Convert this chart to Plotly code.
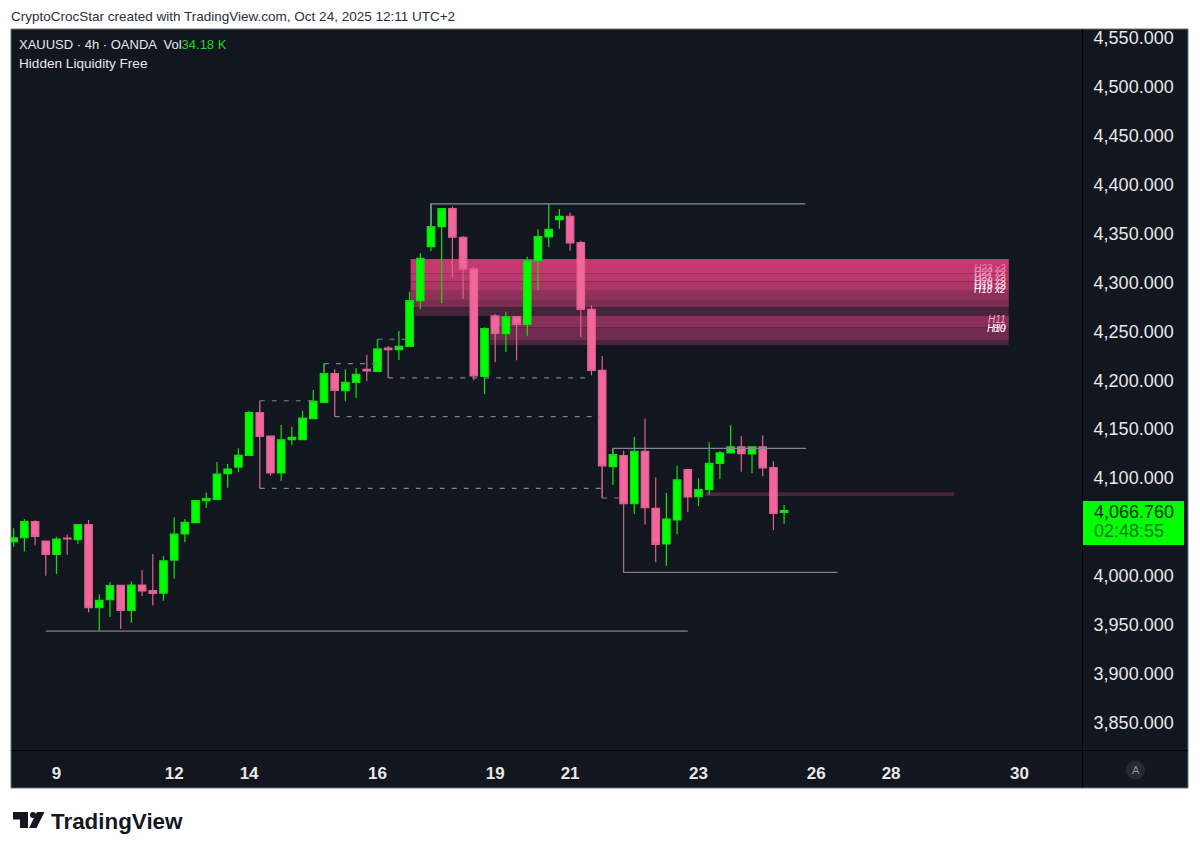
import plotly.graph_objects as go

# 4h bars
opens = [4035.1, 4039.1, 4055.5, 4035.7, 4022.1, 4038.8, 4037.1, 4052.4, 3967.6, 3975.8,
         3990.4, 3964.9, 3990.8, 3985.0, 3982.6, 4016.3, 4042.9, 4054.5, 4077.0, 4078.3,
         4104.5, 4111.3, 4123.2, 4166.8, 4143.0, 4105.2, 4139.2, 4139.3, 4160.7, 4177.4,
         4206.7, 4189.3, 4197.8, 4211.1, 4209.0, 4232.9, 4231.2, 4234.6, 4281.3, 4336.4,
         4356.8, 4375.2, 4346.0, 4313.6, 4204.0, 4265.6, 4247.5, 4264.9, 4257.1, 4322.1,
         4346.3, 4364.0, 4367.4, 4340.5, 4272.4, 4210.1, 4111.7, 4122.9, 4073.9, 4127.4,
         4069.1, 4032.7, 4057.2, 4108.6, 4081.0, 4088.2, 4115.1, 4125.7, 4131.8, 4124.6,
         4131.8, 4110.7, 4065.0]
highs = [4048.7, 4058.2, 4056.9, 4036.0, 4040.2, 4042.5, 4052.8, 4057.2, 3981.3, 3993.9,
         3991.1, 3994.5, 4005.8, 4022.5, 4020.4, 4059.9, 4058.2, 4077.6, 4085.4, 4116.4,
         4114.4, 4130.4, 4168.9, 4170.0, 4143.5, 4154.2, 4152.5, 4168.9, 4190.0, 4217.2,
         4211.1, 4211.1, 4212.1, 4226.1, 4241.8, 4234.9, 4250.3, 4290.4, 4329.6, 4380.0,
         4375.2, 4377.3, 4347.3, 4316.0, 4254.0, 4267.3, 4270.0, 4265.0, 4326.2, 4354.1,
         4380.0, 4374.5, 4371.1, 4342.5, 4276.5, 4224.7, 4130.4, 4128.0, 4142.3, 4160.7,
         4100.5, 4084.8, 4112.7, 4109.3, 4099.8, 4136.6, 4127.7, 4153.9, 4143.0, 4132.5,
         4143.4, 4117.1, 4072.5]
lows = [4029.9, 4025.2, 4031.3, 4000.3, 4002.0, 4021.8, 4033.0, 3962.9, 3943.8, 3958.1,
        3945.8, 3952.3, 3979.6, 3970.0, 3974.8, 3997.3, 4034.7, 4054.0, 4069.4, 4078.0,
        4090.2, 4105.9, 4123.0, 4142.0, 4102.5, 4097.0, 4133.5, 4139.0, 4160.0, 4176.4,
        4188.0, 4178.4, 4181.8, 4198.9, 4209.0, 4230.0, 4220.6, 4234.0, 4272.4, 4332.0,
        4278.5, 4305.1, 4282.9, 4199.9, 4185.6, 4218.3, 4228.8, 4220.3, 4245.5, 4291.8,
        4336.1, 4354.8, 4332.3, 4244.1, 4205.0, 4079.4, 4093.0, 4073.0, 4063.3, 4052.5,
        4014.0, 4010.6, 4042.9, 4065.4, 4071.2, 4083.1, 4099.1, 4125.0, 4106.6, 4104.9,
        4101.8, 4046.7, 4053.5]
closes = [4039.1, 4055.5, 4040.5, 4022.1, 4037.8, 4037.8, 4052.4, 3967.6, 3975.1, 3990.1,
          3964.9, 3990.8, 3984.7, 3982.3, 4015.6, 4042.9, 4054.8, 4077.0, 4079.0, 4104.2,
          4109.3, 4123.2, 4166.8, 4142.7, 4105.2, 4139.2, 4141.6, 4161.4, 4178.4, 4206.7,
          4189.7, 4197.8, 4206.0, 4209.4, 4231.9, 4231.2, 4234.6, 4281.3, 4324.5, 4356.8,
          4375.2, 4346.0, 4313.3, 4204.3, 4252.7, 4247.9, 4264.6, 4257.1, 4321.8, 4346.6,
          4354.1, 4367.4, 4340.2, 4272.4, 4210.1, 4112.4, 4124.0, 4073.9, 4127.4, 4069.8,
          4032.4, 4058.2, 4098.1, 4080.7, 4088.2, 4115.1, 4125.7, 4131.8, 4125.0, 4131.8,
          4110.3, 4064.0, 4066.76]
bars = list(range(len(opens)))

day_bars = [4, 15, 22, 34, 45, 52, 64, 75, 82, 94]
day_labels = ["9", "12", "14", "16", "19", "21", "23", "26", "28", "30"]
price_ticks = [3850, 3900, 3950, 4000, 4100, 4150, 4200, 4250, 4300, 4350, 4400, 4450, 4500, 4550]

# liquidity zones
zone_start = [37.1, 37.1, 37.1, 37.1, 37.1, 37.5, 44.5, 44.5, 44.5, 64.6]
zone_end = [93, 93, 93, 93, 93, 93, 93, 93, 93, 87.9]
zone_top = [4323.8, 4309.2, 4300.7, 4292.1, 4281.9, 4274.4, 4265.6, 4254.0, 4241.0, 4085.5]
zone_bottom = [4309.2, 4300.7, 4292.1, 4281.9, 4274.4, 4265.6, 4254.0, 4241.0, 4236.0, 4081.8]
zone_colors = ["#c5386f", "#bb386c", "#ae3667", "#8f3259", "#7a2e50", "#46243c",
               "#8a305a", "#6f2b50", "#4a2540", "#4a2540"]

zone_labels = ["H23 x2", "H22 x2", "H21 x2", "H20 x2", "H19 x2", "H18 x2", "H11", "H10", "H9"]
zone_label_price = [4314.6, 4310.5, 4305.4, 4301.3, 4297.2, 4293.1, 4261.5, 4252.3, 4252.3]
zone_label_colors = ["#e77fa8", "#ea8fb3", "#eea3c0", "#f3bcd2", "#f8d8e4", "#ffffff",
                     "#f0a9c6", "#ffffff", "#f8d8e4"]

# solid levels: start bar, end bar, price, where the tick goes back to
level_start = [3, 39, 56, 57]
level_end = [63, 74, 74.05, 77]
level_price = [3943.8, 4380.0, 4130.4, 4003.8]
level_anchor = [3943.8, 4356.8, 4124.0, 4073.9]
level_colors = ["#8a7a87", "#7f979c", "#7d8791", "#8f7688"]

# dashed brackets
bracket_start = [23, 23, 29, 30, 34, 35, 55]
bracket_end = [28.3, 55, 34, 54.8, 37, 54, 57]
bracket_price = [4179.0, 4089.5, 4217.0, 4162.8, 4241.8, 4202.3, 4079.7]
bracket_anchor = [4166.8, 4142.7, 4206.7, 4189.7, 4231.9, 4231.2, 4112.4]
bracket_colors = ["#b05c80", "#b05c80", "#2f9c3a", "#b05c80", "#2f9c3a", "#b05c80", "#b05c80"]

BG = "#12161f"
GREEN = "#00ff00"
PINK = "#f2679b"
FONT = "Liberation Sans"

# the page has an 8px body margin, everything below is in page pixels
OFF = 8
W, H = 1184, 837
L, R, T, B = 11, 1082, 29, 750


def xp(px):
    return (px - L) / (R - L)


def yp(py):
    return (B - py) / (B - T)


def page_rect(x0, y0, x1, y1, **kw):
    return dict(type="rect", xref="paper", yref="paper", x0=xp(x0), x1=xp(x1),
                y0=yp(y0), y1=yp(y1), **kw)


def page_text(x, y, text, size, color, anchor="left", **font):
    return dict(xref="paper", yref="paper", x=xp(x), y=yp(y), text=text, showarrow=False,
                xanchor=anchor, yanchor="middle", align="left",
                font=dict(family=FONT, size=size, color=color, **font))


def logo_path(points):
    # closed polygon in page pixels
    parts = [f"{xp(x):.5f},{yp(y):.5f}" for x, y in points]
    return "M" + " L".join(parts) + " Z"


fig = go.Figure()

for s, e, p, a, c in zip(level_start, level_end, level_price, level_anchor, level_colors):
    fig.add_trace(go.Scatter(x=[s, s, e], y=[a, p, p], mode="lines", hoverinfo="skip",
                             line=dict(color=c, width=1.3)))

for s, e, p, a, c in zip(bracket_start, bracket_end, bracket_price, bracket_anchor, bracket_colors):
    fig.add_trace(go.Scatter(x=[s, s], y=[a, p], mode="lines", hoverinfo="skip",
                             line=dict(color=c, width=1.5)))
    fig.add_trace(go.Scatter(x=[s, e], y=[p, p], mode="lines", hoverinfo="skip",
                             line=dict(color="#7c7f88", width=1.2, dash="5px,7px")))

fig.add_trace(go.Candlestick(
    x=bars, open=opens, high=highs, low=lows, close=closes, whiskerwidth=0,
    increasing=dict(fillcolor=GREEN, line=dict(color="#10e010", width=1.2)),
    decreasing=dict(fillcolor=PINK, line=dict(color="#e0608f", width=1.2)),
))

shapes = [
    page_rect(11, 29, 1188, 788, layer="below", fillcolor=BG, line=dict(color="#6d7077", width=1)),
    page_rect(1082, 29, 1082.8, 788, layer="above", fillcolor="#000000", line=dict(width=0)),
    page_rect(11, 750, 1188, 750.8, layer="above", fillcolor="#000000", line=dict(width=0)),
    page_rect(1083, 501, 1184, 545, layer="above", fillcolor=GREEN, line=dict(width=0)),
    dict(type="circle", xref="paper", yref="paper", x0=xp(1126), x1=xp(1145), y0=yp(779.5), y1=yp(760.5),
         fillcolor="#262a33", line=dict(width=0)),
    # TradingView logo
    dict(type="path", xref="paper", yref="paper", fillcolor="#131722", line=dict(width=0),
         path=logo_path([(13, 812), (28, 812), (28, 828), (20, 828), (20, 819.5), (13, 819.5)])),
    dict(type="circle", xref="paper", yref="paper", x0=xp(30), x1=xp(36), y0=yp(818), y1=yp(812),
         fillcolor="#131722", line=dict(width=0)),
    dict(type="path", xref="paper", yref="paper", fillcolor="#131722", line=dict(width=0),
         path=logo_path([(37, 812), (44.5, 812), (36.5, 828), (29, 828)])),
]
for s, e, t, b, c in zip(zone_start, zone_end, zone_top, zone_bottom, zone_colors):
    shapes.append(dict(type="rect", layer="below", x0=s, x1=e, y0=b, y1=t,
                       fillcolor=c, line=dict(width=0)))

annotations = [
    page_text(9, 16, "CryptoCrocStar created with TradingView.com, Oct 24, 2025 12:11 UTC+2", 13.5, "#2a2e39"),
    page_text(17, 45, "XAUUSD · 4h · OANDA  Vol<span style='color:#22d422'>34.18 K</span>", 13, "#e8e8e8"),
    page_text(17, 64, "Hidden Liquidity Free", 13.6, "#e8e8e8"),
    page_text(1092, 512, "4,066.760", 18, "#0b2a0b"),
    page_text(1092, 531, "02:48:55", 18, "#0a7a14"),
    page_text(1135.5, 770, "A", 11, "#8a8d94", anchor="center"),
    page_text(49, 821, "TradingView", 22.4, "#131722", weight="bold"),
]
for lab, p, c in zip(zone_labels, zone_label_price, zone_label_colors):
    annotations.append(dict(x=92.9, y=p, text=f"<i>{lab}</i>", showarrow=False, xanchor="right",
                            yanchor="middle", font=dict(family=FONT, size=10, color=c)))

fig.update_layout(
    width=W, height=H, showlegend=False, paper_bgcolor="#ffffff", plot_bgcolor=BG,
    margin=dict(l=L - OFF, r=W - (R - OFF), t=T - OFF, b=H - (B - OFF), autoexpand=False),
    boxgap=0.3, boxgroupgap=0, shapes=shapes, annotations=annotations,
    font=dict(family=FONT),
)
fig.update_xaxes(range=[-0.25, 99.84], rangeslider_visible=False, showgrid=False, zeroline=False,
                 tickmode="array", tickvals=day_bars, ticktext=day_labels,
                 ticks="outside", ticklen=8, tickcolor=BG,
                 tickfont=dict(family=FONT, size=17, color="#e8e8e8", weight=600))
fig.update_yaxes(range=[3822.3, 4558.7], side="right", showgrid=False, zeroline=False,
                 tickmode="array", tickvals=price_ticks, tickformat=",.3f",
                 ticks="outside", ticklen=7, tickcolor=BG,
                 tickfont=dict(family=FONT, size=18, color="#e8e8e8"))

fig.write_html("out.html")
